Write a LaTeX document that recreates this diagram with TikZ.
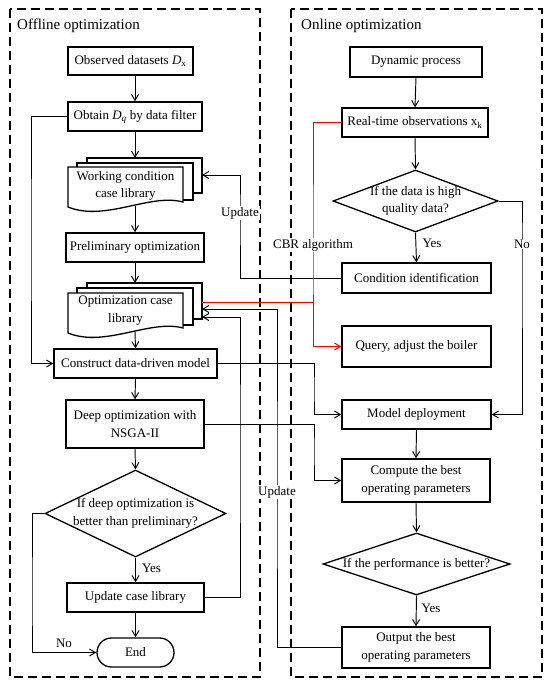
\documentclass[tikz,border=0pt]{standalone}
\usepackage{fontspec}
\setmainfont{Liberation Serif}
\usetikzlibrary{shapes.geometric,arrows.meta,calc}
\newcommand\fs{\fontsize{13}{17.5}\selectfont}
\newcommand\fst{\fontsize{15}{18}\selectfont}
\tikzset{
  box/.style={draw, line width=1.3pt, fill=white, align=center, inner sep=0pt, font=\fs},
  doctext/.style={align=center, inner sep=0pt, font=\fs},
  layer/.style={draw, line width=1.3pt, fill=white},
  dmd/.style={draw, diamond, line width=1.3pt, fill=white, inner sep=0pt},
  conn/.style={line width=0.95pt},
  arr/.style={conn, -{Straight Barb[length=6pt,width=7pt]}},
  lbl/.style={font=\fs, inner sep=1pt, align=center},
  wlbl/.style={lbl, fill=white},
  panel/.style={line width=1.4pt, dash pattern=on 9pt off 5pt},
  ttl/.style={font=\fst, inner sep=0pt, anchor=west},
}
\begin{document}
\begin{tikzpicture}[x=1pt,y=-1pt]
\useasboundingbox (0,0) rectangle (550,688);
% panels
\draw[panel] (10,9) rectangle (260,677);
\draw[panel] (291,9) rectangle (542,677);
\node[ttl] (t1) at (17,25.5) {Offline optimization};
\node[ttl] (t2) at (301,25.5) {Online optimization};

% multi-document: working condition case library
\draw[layer] (87,158) rectangle (202,193);
\draw[layer] (77,163) rectangle (193,200);
\draw[layer] (68,167) -- (183,167) -- (183,202) .. controls (150,193) and (105,222) .. (68,207) -- cycle;
\node[doctext] (work) at (125.5,186) {Working condition\\case library};
% multi-document: optimization case library
\draw[layer] (87,283) rectangle (202,319);
\draw[layer] (77,288) rectangle (193,325);
\draw[layer] (68,293) -- (183,293) -- (183,328) .. controls (150,319) and (105,348) .. (68,333) -- cycle;
\node[doctext] (optlib) at (125.5,310.5) {Optimization case\\library};

% left column
\node[box, minimum width=125pt, minimum height=28pt] (obs) at (130.5,61) {Observed datasets \textit{D}\textsubscript{x}};
\node[box, minimum width=134pt, minimum height=29pt] (obtain) at (135,116.5) {Obtain \textit{D}\textsubscript{\textit{q}} by data filter};
\node[box, minimum width=138pt, minimum height=29pt] (prelim) at (135,247.5) {Preliminary optimization};
\node[box, minimum width=163pt, minimum height=29pt] (construct) at (135.5,363.5) {Construct data-driven model};
\node[box, minimum width=138pt, minimum height=48pt] (deep) at (135,424) {Deep optimization with\\NSGA-II};
\node[dmd, minimum width=181pt, minimum height=87pt] (d2) at (135.5,513.5) {};
\node[lbl] (d2t) at (d2.center) {If deep optimization is\\better than preliminary?};
\node[box, minimum width=137pt, minimum height=29pt] (upd) at (135.5,597.5) {Update case library};
\node[box, minimum width=77pt, minimum height=29pt, rounded corners=14.5pt] (endn) at (135.5,652.5) {End};

% right column
\node[box, minimum width=132pt, minimum height=30pt] (dyn) at (416,62) {Dynamic process};
\node[box, minimum width=146pt, minimum height=29pt] (rto) at (415,122.5) {Real-time observations x\textsubscript{k}};
\node[dmd, minimum width=165pt, minimum height=62pt] (d1) at (415.5,201) {};
\node[lbl] (d1t) at (d1.center) {If the data is high\\quality data?};
\node[box, minimum width=149pt, minimum height=30pt] (cid) at (416.5,278) {Condition identification};
\node[box, minimum width=149pt, minimum height=41pt] (query) at (416.5,346.5) {Query, adjust the boiler};
\node[box, minimum width=149pt, minimum height=29pt] (model) at (416.5,414.5) {Model deployment};
\node[box, minimum width=148pt, minimum height=43pt] (compute) at (416,480.5) {Compute the best\\operating parameters};
\node[dmd, minimum width=187pt, minimum height=62pt] (d3) at (416.5,564) {};
\node[lbl] (d3t) at (d3.center) {If the performance is better?};
\node[box, minimum width=148pt, minimum height=41pt] (out) at (416,647.5) {Output the best\\operating parameters};

% coordinates
\coordinate (workT) at (135,158);
\coordinate (workB) at (135,205.5);
\coordinate (optT) at (135,283);
\coordinate (optB) at (135,331.5);
\coordinate (workR) at (202,175);
\coordinate (optR) at (202,302);
\coordinate (optR1) at (202,309);
\coordinate (optR2) at (202,317);
\coordinate (upd1) at (240,213);
\coordinate (upd2) at (277,492);
\coordinate (j2) at (240,450);
\coordinate (j3) at (31,240);
\coordinate (j4) at (32,600);
\coordinate (j5) at (314,390);
\coordinate (j6) at (314,450);
\coordinate (nolbl) at (522,244);
\coordinate (cbr) at (313,245);

% left vertical flow
\draw[arr] (obs.south -| obtain.north) -- (obtain.north);
\draw[arr] (obtain.south) -- (workT);
\draw[arr] (workB) -- (prelim.north);
\draw[arr] (prelim.south) -- (optT);
\draw[arr] (optB) -- (construct.north);
\draw[arr] (construct.south) -- (deep.north);
\draw[arr] (deep.south) -- (d2.north);
\draw[arr] (d2.south) -- (upd.north);
\draw[arr] (upd.south) -- (endn.north);
\draw[arr] (obtain.west) -| (j3) |- (construct.west);
\draw[arr] (d2.west) -| (j4) |- (endn.west);

% right vertical flow
\draw[arr] (dyn.south) -- (rto.north);
\draw[arr] (rto.south) -- (d1.north);
\draw[arr] (d1.south) -- (cid.north);
\draw[arr] (model.south) -- (compute.north);
\draw[arr] (compute.south) -- (d3.north);
\draw[arr] (d3.south) -- (out.north);
\draw[arr] (d1.east) -| (nolbl) |- (model.east);

% cross connections
\draw[arr] (construct.east) -| (j5) |- (model.west);
\draw[arr] (deep.east) -| (j6) |- (compute.west);
\draw[arr] (cid.west) -| (upd1) |- (workR);
\draw[arr] (upd.east) -| (j2) |- (optR2);
\draw[arr] (out.west) -| (upd2) |- (optR1);
\draw[arr, red] (rto.west) -| (cbr) |- (query.west);
\draw[conn, red] (optR) -- (optR -| cbr);

% labels
\node[lbl] (yes1) at (151.5,568) {Yes};
\node[lbl] (no1) at (64,643) {No};
\node[lbl] (yes2) at (432,243) {Yes};
\node[lbl] (yes3) at (431,608) {Yes};
\node[wlbl] (no2) at (nolbl) {No};
\node[wlbl] (up1) at (upd1) {Update};
\node[wlbl] (up2) at (upd2) {Update};
\node[wlbl] (cbrl) at (cbr) {CBR algorithm};
\end{tikzpicture}
\end{document}
